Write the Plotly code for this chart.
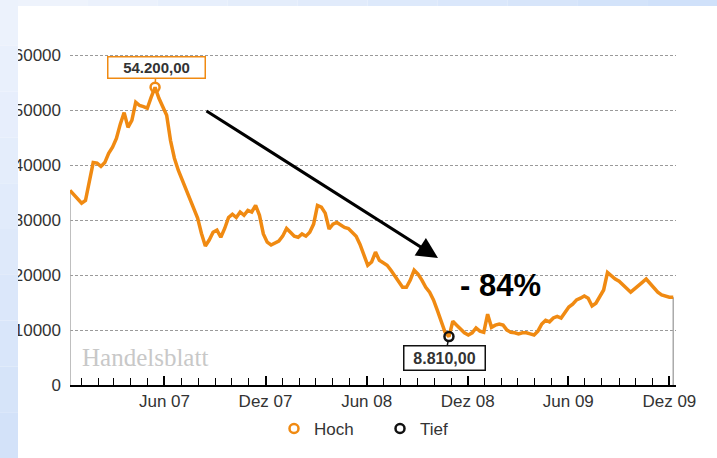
import numpy as np
import pandas as pd
import plotly.graph_objects as go

# ---- data (weekly closing levels) ----
start_date = "2006-12-12"
values = [
    35450, 34700, 34000, 33100, 33600, 36700, 40500, 40400, 39800, 40500,
    42200, 43300, 44900, 47500, 49600, 46900, 48200, 51500, 50900, 50700,
    50400, 52400, 54200, 52200, 50500, 49100, 44500, 41300, 39100, 37300,
    35500, 34000, 31800, 30400, 27600, 25300, 26400, 27800, 28200, 26900,
    28500, 30500, 31100, 30500, 31500, 30900, 31800, 31500, 32700, 30900,
    27500, 26000, 25500, 25800, 26200, 27100, 28500, 27800, 27100, 26900,
    27500, 27100, 27800, 29300, 32700, 32400, 31300, 28400, 29300, 29600,
    29100, 28700, 28500, 27800, 27100, 25600, 23600, 21800, 22400, 24200,
    22700, 22200, 21800, 20900, 19800, 18700, 17800, 17800, 19100, 20900,
    20200, 19100, 17800, 16900, 15500, 13600, 11500, 9600, 8810, 11600,
    10900, 10200, 9500, 9100, 9500, 10400, 9800, 9600, 12900, 10500,
    10900, 11100, 10900, 10000, 9600, 9500, 9300, 9500, 9500, 9300,
    9100, 9800, 11100, 11800, 11500, 12200, 12500, 12200, 13300, 14200,
    14700, 15500, 15800, 16200, 15800, 14400, 14900, 16000, 17300, 20500,
    19800, 19300, 18900, 18200, 17500, 16900, 17500, 18200, 18700, 19300,
    18500, 17600, 16900, 16400, 16200, 16000, 16000,
]
x_tick_dates = ["2007-06-01", "2007-12-01", "2008-06-01", "2008-12-01", "2009-06-01", "2009-12-01"]
x_tick_labels = ["Jun 07", "Dez 07", "Jun 08", "Dez 08", "Jun 09", "Dez 09"]
y_tick_vals = [0, 10000, 20000, 30000, 40000, 50000, 60000]
y_tick_labels = ["0", "10000", "20000", "30000", "40000", "50000", "60000"]
high_label = "54.200,00"
low_label = "8.810,00"
change_label = "- 84%"

dates = pd.date_range(start_date, periods=len(values), freq="7D")
vals = np.array(values)
i_hi = int(np.argmax(vals))
i_lo = int(np.argmin(vals))

ORANGE = "#f08a12"
W, H = 717, 458
L, R, T, B = 70, 676, 50, 385


def px_x(p):
    return (p - L) / (R - L)


def px_y(p):
    return (B - p) / (B - T)


fig = go.Figure()

# area edges
fig.add_trace(go.Scatter(x=[dates[0], dates[0]], y=[0, vals[0]], mode="lines",
                         line=dict(color="#aaaaaa", width=1.5), showlegend=False, hoverinfo="skip"))
fig.add_trace(go.Scatter(x=[dates[-1], dates[-1]], y=[0, vals[-1]], mode="lines",
                         line=dict(color="#aaaaaa", width=1.5), showlegend=False, hoverinfo="skip"))
# main line
fig.add_trace(go.Scatter(x=dates, y=vals, mode="lines", line=dict(color=ORANGE, width=3.5),
                         showlegend=False))
# markers
fig.add_trace(go.Scatter(x=[dates[i_hi]], y=[vals[i_hi]], mode="markers", name="Hoch", legend="legend",
                         marker=dict(symbol="circle-open", size=9, color=ORANGE, line=dict(width=2.5, color=ORANGE))))
fig.add_trace(go.Scatter(x=[dates[i_lo]], y=[vals[i_lo]], mode="markers", name="Tief", legend="legend2",
                         marker=dict(symbol="circle-open", size=9, color="#111111", line=dict(width=2.5, color="#111111"))))

annotations = [
    dict(x=dates[i_hi], y=vals[i_hi], text="<b>" + high_label + "</b>", showarrow=True, arrowhead=0,
         arrowcolor=ORANGE, arrowwidth=1.5, ax=1, ay=-20, standoff=4,
         bordercolor=ORANGE, borderwidth=1.5, borderpad=1, bgcolor="white",
         width=94, height=18, font=dict(family="Liberation Sans", size=15, color="#333333")),
    dict(x=dates[i_lo], y=vals[i_lo], text="<b>" + low_label + "</b>", showarrow=True, arrowhead=0,
         arrowcolor="#111111", arrowwidth=1.5, ax=-4, ay=21, standoff=4,
         bordercolor="#111111", borderwidth=1.5, borderpad=1, bgcolor="white",
         width=78, height=21, font=dict(family="Liberation Sans", size=16, color="#333333")),
    # big arrow
    dict(xref="paper", yref="paper", x=px_x(438), y=px_y(258), ax=205 - 438, ay=110 - 258,
         axref="pixel", ayref="pixel", text="", showarrow=True, arrowhead=2, arrowsize=1.4,
         arrowwidth=3, arrowcolor="black"),
    dict(xref="paper", yref="paper", x=px_x(500), y=px_y(285), xanchor="center", yanchor="middle",
         text="<b>" + change_label + "</b>",
         showarrow=False, font=dict(family="Liberation Sans", size=31, color="black")),
    dict(xref="paper", yref="paper", x=px_x(80), y=px_y(357), xanchor="left", yanchor="middle",
         text="Handelsblatt", showarrow=False,
         font=dict(family="Liberation Serif", size=25, color="#c8c8c8")),
]

shapes = []
# left gradient strip (drawn above so it clips the first digit of labels)
n = 10
c_top = np.array([0xee, 0xf3, 0xfd])
c_bot = np.array([0xd2, 0xe2, 0xf9])
for k in range(n):
    c = c_top + (c_bot - c_top) * (k + 0.5) / n
    y0 = H * k / n
    y1 = H * (k + 1) / n
    shapes.append(dict(type="rect", xref="paper", yref="paper", x0=px_x(0), x1=px_x(18),
                       y0=px_y(y1), y1=px_y(y0), fillcolor="rgb(%d,%d,%d)" % tuple(c),
                       line=dict(width=0), layer="above"))
c_l = np.array([0xf0, 0xf5, 0xfd])
c_r = np.array([0xcf, 0xe0, 0xfa])
for k in range(n):
    c = c_l + (c_r - c_l) * (k + 0.5) / n
    x0 = 18 + (W - 18) * k / n
    x1 = 18 + (W - 18) * (k + 1) / n
    shapes.append(dict(type="rect", xref="paper", yref="paper", x0=px_x(x0), x1=px_x(x1),
                       y0=px_y(6), y1=px_y(0), fillcolor="rgb(%d,%d,%d)" % tuple(c),
                       line=dict(width=0), layer="above"))

legend_common = dict(orientation="h", xanchor="left", yanchor="middle", y=px_y(429),
                     font=dict(size=17, color="#333333"), bgcolor="rgba(0,0,0,0)")

fig.update_layout(
    width=W, height=H,
    margin=dict(l=L, r=W - R, t=T, b=H - B, autoexpand=False),
    paper_bgcolor="white", plot_bgcolor="white",
    font=dict(family="Liberation Sans", size=17, color="#333333"),
    showlegend=True,
    legend=dict(x=px_x(274), **legend_common),
    legend2=dict(x=px_x(380), **legend_common),
    annotations=annotations,
    shapes=shapes,
    xaxis=dict(
        type="date", range=["2006-12-12", "2009-12-13"], automargin=False,
        tickvals=x_tick_dates, ticktext=x_tick_labels,
        ticks="inside", ticklen=9, tickwidth=1.5, tickcolor="black",
        showline=True, linecolor="black", linewidth=2, showgrid=False, zeroline=False,
        minor=dict(dtick="M1", tick0="2006-12-01", ticks="inside", ticklen=7, tickwidth=1,
                   tickcolor="black", showgrid=False),
        tickfont=dict(size=17, color="#333333"),
    ),
    yaxis=dict(
        range=[0, 61000], tickvals=y_tick_vals, ticktext=y_tick_labels, automargin=False,
        showgrid=True, gridcolor="#9a9a9a", griddash="3px,2px", gridwidth=1,
        zeroline=False, showline=False, ticks="", ticklabelstandoff=8,
        tickfont=dict(size=17, color="#333333"),
    ),
)

fig.write_html("out.html", config={"displayModeBar": False},
               post_script="document.body.style.margin='0';")
